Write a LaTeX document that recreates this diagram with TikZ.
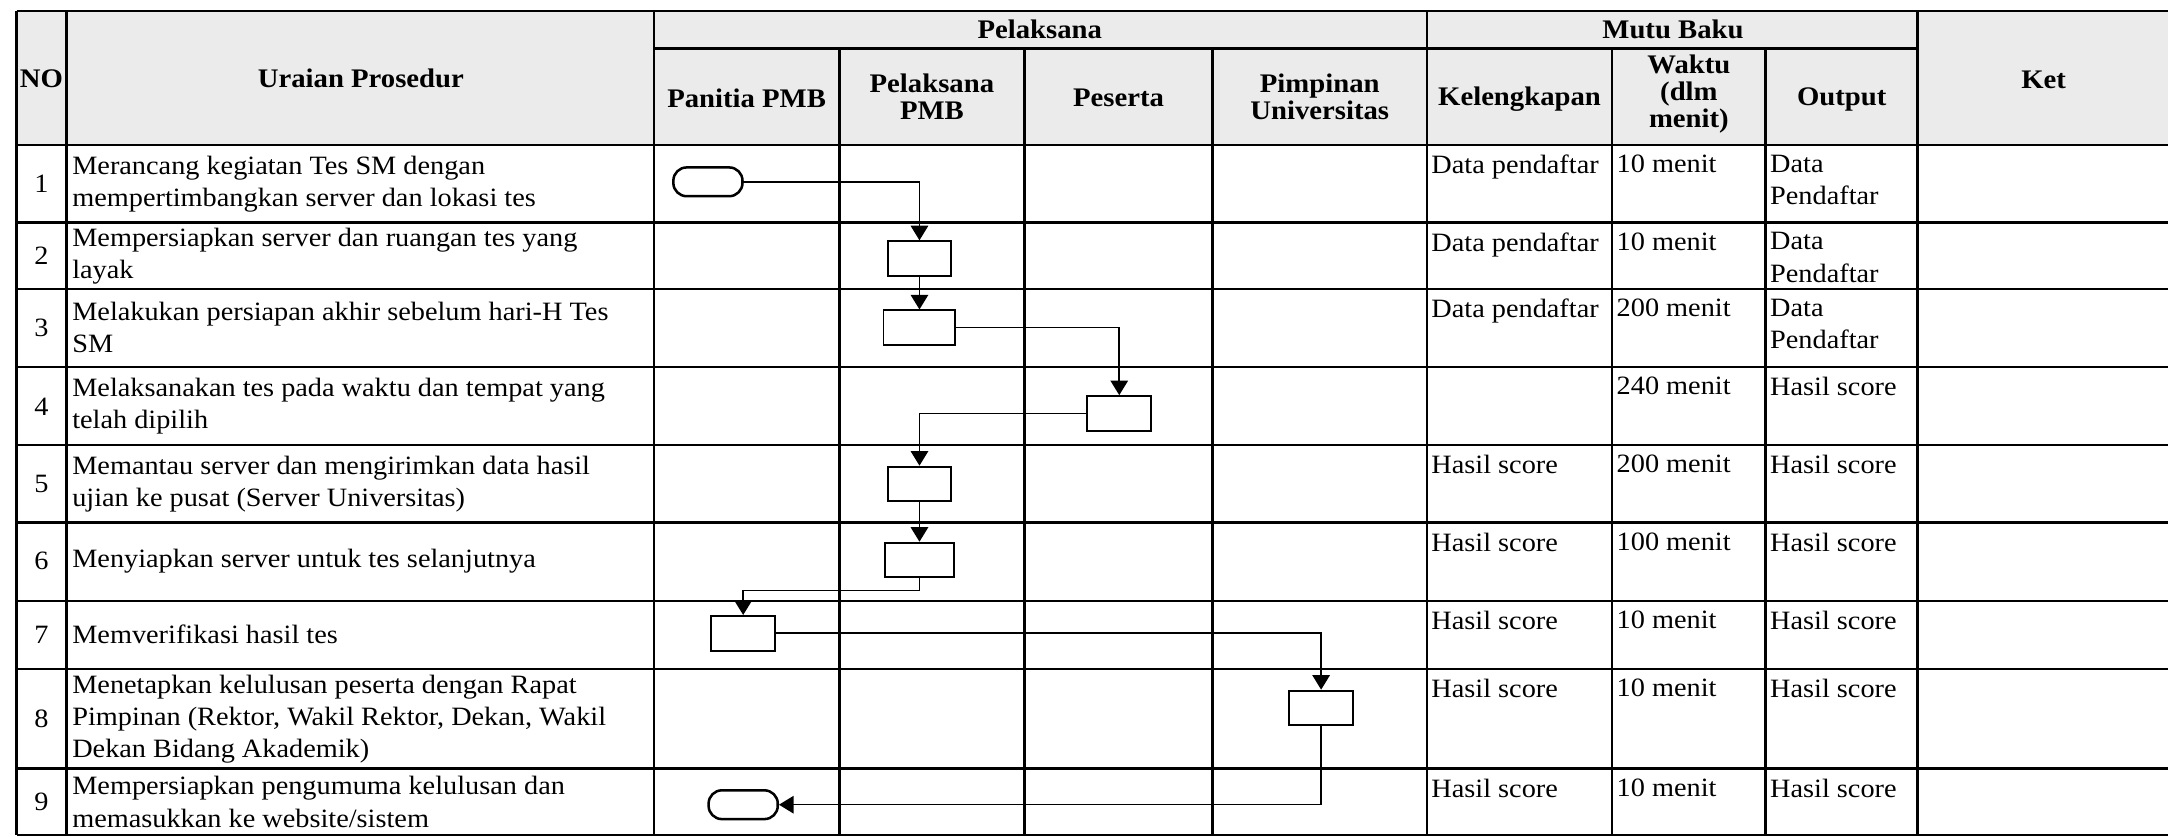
\documentclass[tikz,border=0pt]{standalone}
\usepackage{fontspec}
\setmainfont[FakeStretch=1.07]{Liberation Serif}
\usetikzlibrary{arrows.meta}

\begin{document}
\begin{tikzpicture}[x=0.025cm, y=-0.025cm,
        every node/.style={font=\fontsize{13.6pt}{16.5pt}\selectfont},
        head/.style={font=\fontsize{13.8pt}{14pt}\selectfont\bfseries, align=center},
        isi/.style={anchor=west, align=left, inner sep=0pt},
        mutu/.style={anchor=north west, align=left, inner sep=0pt},
        kotak/.style={draw, line width=1pt, fill=white, inner sep=0pt,
                      minimum width=1.15cm, minimum height=0.625cm},
        ujung/.style={draw, line width=1.3pt, fill=white, inner sep=0pt, rounded corners=0.24cm,
                      minimum width=1.25cm, minimum height=0.52cm},
        alir/.style={-{Triangle[length=7.5pt,width=9pt]}, line width=0.8pt},
        garis/.style={line width=1.3pt}
                            ]
        \useasboundingbox (0,0) rectangle (1568,605);
        % header shading
        \fill[white] (0,0) rectangle (1568,605);
        \fill[black!8] (12,8) rectangle (1568,105);
        % grid
        \draw[garis] (12,8) -- (1568,8);
        \draw[garis] (473,35) -- (1387,35);
        \foreach \y in {105,161,209,265.5,322,378,434.5,484,556,604}
            \draw[garis] (12,\y) -- (1568,\y);
        \foreach \x in {12,48,473,1032,1387}
            \draw[garis] (\x,8) -- (\x,604);
        \foreach \x in {607,741,877,1166,1277}
            \draw[garis] (\x,35) -- (\x,604);
        % header
        \node[head] (hno) at (30,57) {NO};
        \node[head] (hur) at (261,57) {Uraian Prosedur};
        \node[head] (hpl) at (752,21) {Pelaksana};
        \node[head] (hmb) at (1210,21) {Mutu Baku};
        \node[head] (hket) at (1478,58) {Ket};
        \node[head] (hpan) at (540,71) {Panitia PMB};
        \node[head] (hpel) at (674,70) {Pelaksana\\PMB};
        \node[head] (hpes) at (809,71) {Peserta};
        \node[head] (hpim) at (954.5,70) {Pimpinan\\Universitas};
        \node[head] (hkel) at (1099,72) {Kelengkapan};
        \node[head] (hwak) at (1221.5,68) {Waktu\\(dlm\\menit)};
        \node[head] (hout) at (1332,72) {Output};
        % nomor
        \foreach \n/\y in {1/133,2/185,3/237,4/294,5/350,6/406,7/459,8/520,9/580}
            \node (no\n) at (30,\y) {\n};
        % uraian prosedur
        \node[isi] (u1) at (52,133) {Merancang kegiatan Tes SM dengan\\mempertimbangkan server dan lokasi tes};
        \node[isi] (u2) at (52,185) {Mempersiapkan server dan ruangan tes yang\\layak};
        \node[isi] (u3) at (52,237) {Melakukan persiapan akhir sebelum hari-H Tes\\SM};
        \node[isi] (u4) at (52,294) {Melaksanakan tes pada waktu dan tempat yang\\telah dipilih};
        \node[isi] (u5) at (52,350) {Memantau server dan mengirimkan data hasil\\ujian ke pusat (Server Universitas)};
        \node[isi] (u6) at (52,406) {Menyiapkan server untuk tes selanjutnya};
        \node[isi] (u7) at (52,459) {Memverifikasi hasil tes};
        \node[isi] (u8) at (52,520) {Menetapkan kelulusan peserta dengan Rapat\\Pimpinan (Rektor, Wakil Rektor, Dekan, Wakil\\Dekan Bidang Akademik)};
        \node[isi] (u9) at (52,580) {Mempersiapkan pengumuma kelulusan dan\\memasukkan ke website/sistem};
        % mutu baku
        \foreach \i/\y/\k/\w/\o in {1/105/Data pendaftar/10 menit/{Data\\Pendaftar},
                                 2/161/Data pendaftar/10 menit/{Data\\Pendaftar},
                                 3/209/Data pendaftar/200 menit/{Data\\Pendaftar},
                                 4/265.5/{}/240 menit/Hasil score,
                                 5/322/Hasil score/200 menit/Hasil score,
                                 6/378/Hasil score/100 menit/Hasil score,
                                 7/434.5/Hasil score/10 menit/Hasil score,
                                 8/484/Hasil score/10 menit/Hasil score,
                                 9/556/Hasil score/10 menit/Hasil score}
        {
            \node[mutu] (kel\i) at (1035,\y+7) {\k};
            \node[mutu] (wak\i) at (1169,\y+7) {\w};
            \node[mutu] (out\i) at (1280,\y+7) {\o};
        }
        % flowchart
        \node[ujung] (mulai) at (512,131.5) {};
        \node[kotak] (p2) at (665,187) {};
        \node[kotak, minimum width=1.3cm] (p3) at (665,237) {};
        \node[kotak] (p4) at (809.5,299) {};
        \node[kotak] (p5) at (665,350) {};
        \node[kotak, minimum width=1.25cm] (p6) at (665,405) {};
        \node[kotak] (p7) at (537.5,458) {};
        \node[kotak] (p8) at (955.5,512) {};
        \node[ujung] (selesai) at (537.5,582) {};
        %
        \draw[alir] (mulai.east) -| (p2.north);
        \draw[alir] (p2.south) -- (p3.north);
        \draw[alir] (p3.east) -| (p4.north);
        \draw[alir] (p4.west) -| (p5.north);
        \draw[alir] (p5.south) -- (p6.north);
        \draw[alir] (p6.south) -- ++(0,9) -| (p7.north);
        \draw[alir] (p7.east) -| (p8.north);
        \draw[alir] (p8.south) |- (selesai.east);
    \end{tikzpicture}
\end{document}
